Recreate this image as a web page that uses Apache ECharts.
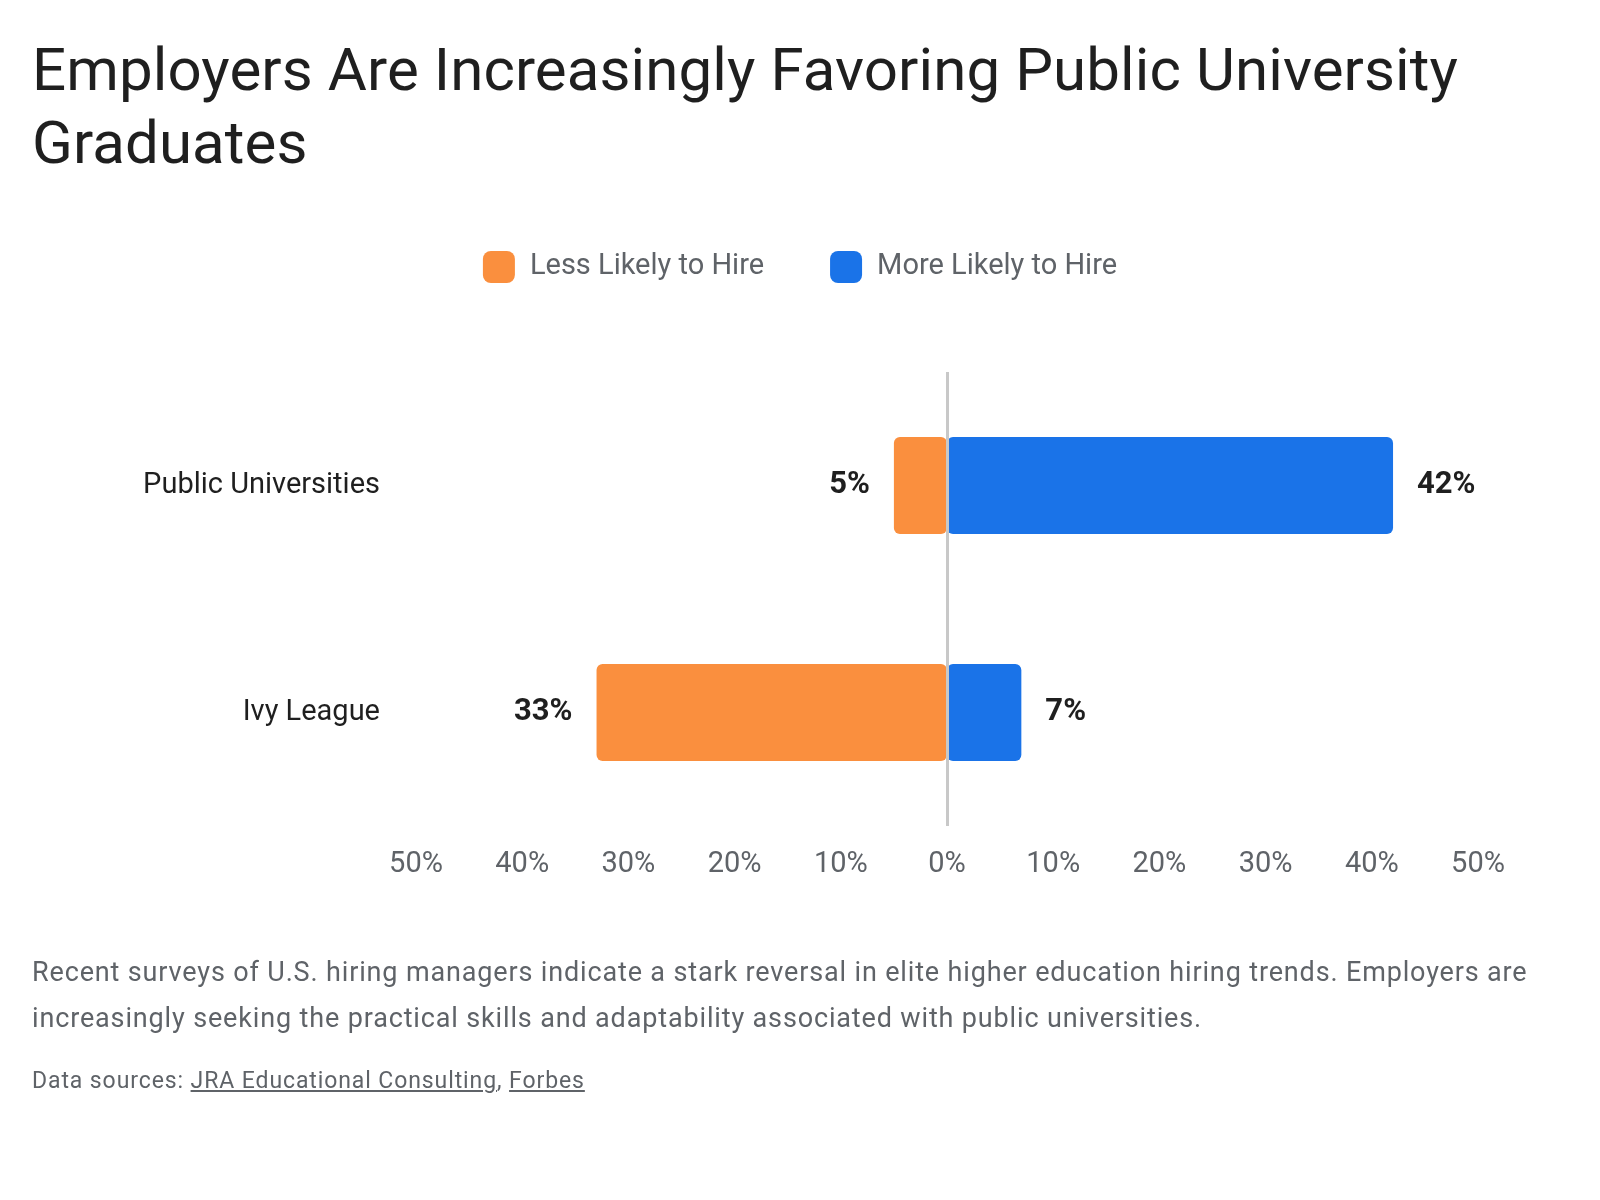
<!DOCTYPE html>
<html>
<head>
<meta charset="utf-8">
<script src="https://cdn.jsdelivr.net/npm/echarts@6/dist/echarts.min.js"></script>
<style>
  html, body { margin: 0; padding: 0; background: #fff; }
  body { width: 1600px; height: 1200px; position: relative; overflow: hidden; font-family: Roboto, "Noto Sans", sans-serif; }
  #chart { position: absolute; left: 0; top: 0; width: 1600px; height: 1200px; }
  .title { position: absolute; left: 32px; top: 33px; margin: 0; font-size: 60px; line-height: 73px; font-weight: 400; color: #1f1f1f; white-space: nowrap; letter-spacing: 0.1px; }
  .desc { position: absolute; left: 32px; top: 949px; margin: 0; font-size: 27px; line-height: 46px; color: #5f6368; white-space: nowrap; letter-spacing: 0.85px; }
  .src { position: absolute; left: 32px; top: 1066px; margin: 0; font-size: 23px; line-height: 30px; color: #5f6368; white-space: nowrap; letter-spacing: 0.9px; }
  .src a { color: #5f6368; text-decoration: underline; }
</style>
</head>
<body>
<div id="chart"></div>
<h1 class="title">Employers Are Increasingly Favoring Public University<br>Graduates</h1>
<p class="desc">Recent surveys of U.S. hiring managers indicate a stark reversal in elite higher education hiring trends. Employers are<br>increasingly seeking the practical skills and adaptability associated with public universities.</p>
<p class="src">Data sources: <a href="#">JRA Educational Consulting</a>, <a href="#">Forbes</a></p>
<script>
  // 数据
  const categories = ['Public Universities', 'Ivy League']
  const lessLikely = [5, 33]
  const moreLikely = [42, 7]
  const seriesNames = ['Less Likely to Hire', 'More Likely to Hire']

  const chart = echarts.init(document.getElementById('chart'))

  // 数据标签
  const labelStyle = {
    show: true,
    distance: 24,
    fontSize: 31,
    fontWeight: 'bold',
    color: '#1f1f1f',
    fontFamily: 'Roboto',
    formatter: p => Math.abs(p.value) + '%'
  }

  const option = {
    textStyle: { fontFamily: 'Roboto' },
    animation: false,
    legend: {
      top: 251,
      left: 'center',
      padding: 0,
      itemWidth: 32,
      itemHeight: 32,
      itemGap: 66,
      icon: 'roundRect',
      textStyle: { fontSize: 29, color: '#5f6368', padding: [0, 0, 0, 10] },
      data: seriesNames
    },
    grid: { left: 416, right: 122, top: 372, bottom: 374 },
    xAxis: {
      type: 'value',
      min: -50,
      max: 50,
      interval: 10,
      axisLine: { show: false },
      axisTick: { show: false },
      splitLine: { show: false },
      axisLabel: {
        fontSize: 29,
        color: '#5f6368',
        margin: 24,
        formatter: v => Math.abs(v) + '%'
      }
    },
    yAxis: {
      type: 'category',
      inverse: true,
      data: categories,
      axisLine: { show: false },
      axisTick: { show: false },
      axisLabel: { fontSize: 29, color: '#1f1f1f', margin: 36 }
    },
    series: [
      {
        name: seriesNames[0],
        type: 'bar',
        stack: 'total',
        barWidth: 97,
        itemStyle: { color: '#fa8f3e', borderRadius: 6 },
        label: { ...labelStyle, position: 'left' },
        data: lessLikely.map(v => -v)
      },
      {
        name: seriesNames[1],
        type: 'bar',
        stack: 'total',
        barWidth: 97,
        itemStyle: { color: '#1a73e8', borderRadius: 6 },
        label: { ...labelStyle, position: 'right' },
        data: moreLikely,
        // 0% 参考线
        markLine: {
          silent: true,
          symbol: 'none',
          label: { show: false },
          lineStyle: { color: '#c8c8c8', width: 3, type: 'solid' },
          data: [{ xAxis: 0 }]
        }
      }
    ]
  }

  chart.setOption(option)
</script>
</body>
</html>
